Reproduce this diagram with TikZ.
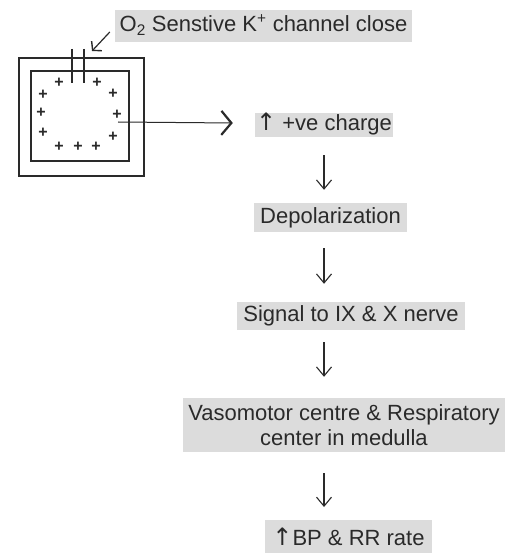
\documentclass[tikz,border=0pt]{standalone}
\usepackage{fontspec}
\setmainfont{Liberation Sans}
\newfontfamily\arrowfont{DejaVu Sans}
\usetikzlibrary{arrows.meta,calc}
\definecolor{ink}{HTML}{2A2A2A}
\definecolor{boxgray}{HTML}{DCDCDC}
\newcommand{\uparr}{{\arrowfont\fontsize{24}{25}\selectfont ↑}}
\begin{document}
\begin{tikzpicture}[x=1pt,y=-1pt,
  every node/.style={text=ink, font=\fontsize{22}{25}\selectfont},
  labelbox/.style={fill=boxgray, inner sep=0pt},
  oneline/.style={text height=16pt, text depth=5pt},
  plus/.style={inner sep=0pt, font=\fontsize{16}{16}\selectfont\bfseries},
  wall/.style={draw=ink, line width=1.4pt},
  flow/.style={draw=ink, line width=1.1pt,
    -{Straight Barb[length=9pt,width=15pt,line width=1.1pt]}},
  rarr/.style={draw=ink, line width=1pt,
    -{Straight Barb[length=10pt,width=24pt,line width=2.2pt]}},
  charr/.style={draw=ink, line width=1.2pt,
    -{Straight Barb[length=6pt,width=14pt,line width=1.4pt]}}
]
\useasboundingbox (0,0) rectangle (512,553);
\fill[white] (0,0) rectangle (512,553);

% cell: membrane walls and the K+ channel
\draw[wall] (19,58) rectangle (144,176);
\draw[wall] (31,71) rectangle (129,161);
\draw[wall] (72,49) -- (72,83);
\draw[wall] (84,49) -- (84,83);
\coordinate (chantip) at (92,51);

% positive charges inside the cell
\foreach \x/\y [count=\i] in {59/83, 97/83, 43/95, 113/94, 41/113, 117/115,
                             43/133, 113/137, 59/147, 78/147, 96/147}
  \node[plus] (p\i) at (\x,\y) {+};

% labels of the cascade
\node[labelbox, oneline, minimum width=297pt, minimum height=32pt] (n0) at (263.5,26)
  {O\textsubscript{2} Senstive K\textsuperscript{+} channel close};
\node[labelbox, oneline, minimum width=138pt, minimum height=24pt] (n1) at (324,125)
  {\uparr\ +ve charge};
\node[labelbox, oneline, minimum width=153pt, minimum height=29pt] (n2) at (330.5,217.5)
  {Depolarization};
\node[labelbox, oneline, minimum width=228pt, minimum height=28pt] (n3) at (351,316)
  {Signal to IX \& X nerve};
\node[labelbox, align=center, minimum width=322pt, minimum height=54pt] (n4) at (344,425)
  {Vasomotor centre \& Respiratory\\center in medulla};
\node[labelbox, oneline, anchor=north, minimum width=167pt, minimum height=40pt] (n5) at (348.5,520)
  {\uparr BP \& RR rate};

% connectors
\coordinate (col) at (324,0);
\draw[charr] ($(n0.west)+(-5,6)$) -- (chantip);
\draw[rarr] ($(p6.center)+(1,7)$) -- ($(n1.west)+(-22,-2)$);
\draw[flow] ($(n1.south -| col)+(0,18)$) -- ($(n2.north -| col)+(0,-13)$);
\draw[flow] ($(n2.south -| col)+(0,16)$) -- ($(n3.north -| col)+(0,-18)$);
\draw[flow] ($(n3.south -| col)+(0,12)$) -- ($(n4.north -| col)+(0,-21)$);
\draw[flow] ($(n4.south -| col)+(0,21)$) -- ($(n5.north -| col)+(0,-13)$);
\end{tikzpicture}
\end{document}
